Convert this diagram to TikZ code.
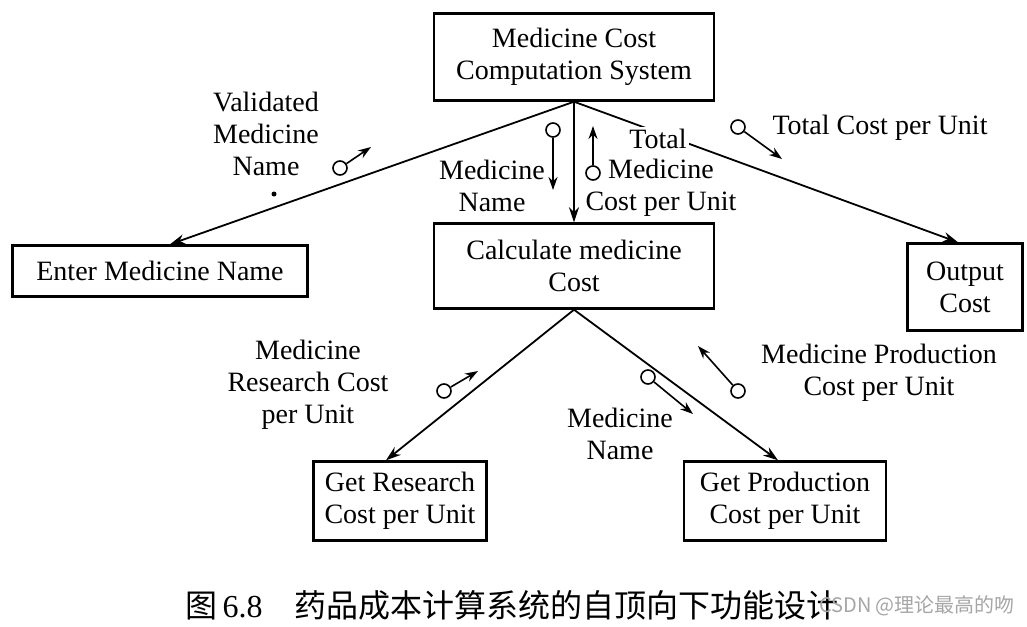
\documentclass[tikz,border=0pt]{standalone}
\usepackage{fontspec}
\setmainfont{Liberation Serif}
\newfontfamily\cjk{Noto Sans CJK SC}
\usetikzlibrary{arrows.meta}
\tikzstyle{moduleBox}=[draw,rectangle,line width=1.2pt,align=center,inner sep=2pt,font=\fontsize{14}{16}\selectfont]
\tikzstyle{flowLabel}=[align=center,inner sep=1pt,font=\fontsize{14}{16}\selectfont]
\tikzstyle{callArrow}=[-{Stealth[length=7.5pt,width=5pt]}, line width=0.9pt]
\tikzstyle{coupleDot}=[draw,circle,minimum size=7pt,inner sep=0pt,line width=0.8pt]
\tikzstyle{coupleArrow}=[-{Stealth[length=6.5pt,width=4.5pt]}, line width=0.8pt]
\begin{document}
\begin{tikzpicture}[x=0.5pt,y=-0.5pt]

    \fill[white] (0,0) rectangle (1027,626);
    \useasboundingbox (0,0) rectangle (1027,626);

    % modules
    \node[moduleBox,minimum width=140pt,minimum height=43.5pt] (sys) at (574,57) {Medicine Cost\\Computation System};
    \node[moduleBox,minimum width=140pt,minimum height=42.5pt] (calc) at (574,266) {Calculate medicine\\Cost};
    \node[moduleBox,minimum width=147.5pt,minimum height=25.5pt] (enter) at (160,271) {Enter Medicine Name};
    \node[moduleBox,minimum width=57.5pt,minimum height=43.5pt] (output) at (965,287) {Output\\Cost};
    \node[moduleBox,minimum width=86.5pt,minimum height=39.5pt] (research) at (400,501) {Get Research\\Cost per Unit};
    \node[moduleBox,minimum width=101pt,minimum height=39.5pt] (production) at (785,501) {Get Production\\Cost per Unit};

    % calls
    \draw[callArrow] (sys.south) -- ([xshift=5pt]enter.north);
    \draw[callArrow] (sys.south) -- (calc.north);
    \draw[callArrow] (sys.south) -- ([xshift=-3.5pt]output.north);
    \draw[callArrow] (calc.south) -- ([xshift=-7pt]research.north);
    \draw[callArrow] (calc.south) -- ([xshift=-3.5pt]production.north);

    % labels
    \node[flowLabel] (validName) at (266,134) {Validated\\Medicine\\Name};
    \node[circle,fill,inner sep=0pt,minimum size=2.5pt] (strayDot) at (274,194) {};
    \node[flowLabel] (nameUp) at (492,186) {Medicine\\Name};
    \node[flowLabel,fill=white] (totalWord) at (658,139) {Total};
    \node[flowLabel] (totalMed) at (661,188) {Medicine\\Cost per Unit};
    \node[flowLabel] (totalOut) at (880,128) {Total Cost per Unit};
    \node[flowLabel] (researchCost) at (308,385) {Medicine\\Research Cost\\per Unit};
    \node[flowLabel] (nameDown) at (620,434) {Medicine\\Name};
    \node[flowLabel] (prodCost) at (879,373) {Medicine Production\\Cost per Unit};

    % data couples
    \node[coupleDot] (cp1) at (340,168) {};
    \coordinate (cp1t) at (371,147);
    \node[coupleDot] (cp2) at (553,130) {};
    \coordinate (cp2t) at (553,190);
    \node[coupleDot] (cp3) at (593,173) {};
    \coordinate (cp3t) at (593,126);
    \node[coupleDot] (cp4) at (738,127) {};
    \coordinate (cp4t) at (782,159);
    \node[coupleDot] (cp5) at (444,391) {};
    \coordinate (cp5t) at (478,371);
    \node[coupleDot] (cp6) at (648,377) {};
    \coordinate (cp6t) at (693,414);
    \node[coupleDot] (cp7) at (738,391) {};
    \coordinate (cp7t) at (698,346);

    \draw[coupleArrow] (cp1) -- (cp1t);
    \draw[coupleArrow] (cp2) -- (cp2t);
    \draw[coupleArrow] (cp3) -- (cp3t);
    \draw[coupleArrow] (cp4) -- (cp4t);
    \draw[coupleArrow] (cp5) -- (cp5t);
    \draw[coupleArrow] (cp6) -- (cp6t);
    \draw[coupleArrow] (cp7) -- (cp7t);

    % caption
    \node[font=\fontsize{16}{18}\selectfont] (caption) at (512,605) {{\cjk 图}\,6.8\quad{\cjk 药品成本计算系统的自顶向下功能设计}};
    \node[font=\cjk\fontsize{10}{12}\selectfont,text=gray!70] (mark) at (917,606) {CSDN @理论最高的吻};

\end{tikzpicture}
\end{document}
